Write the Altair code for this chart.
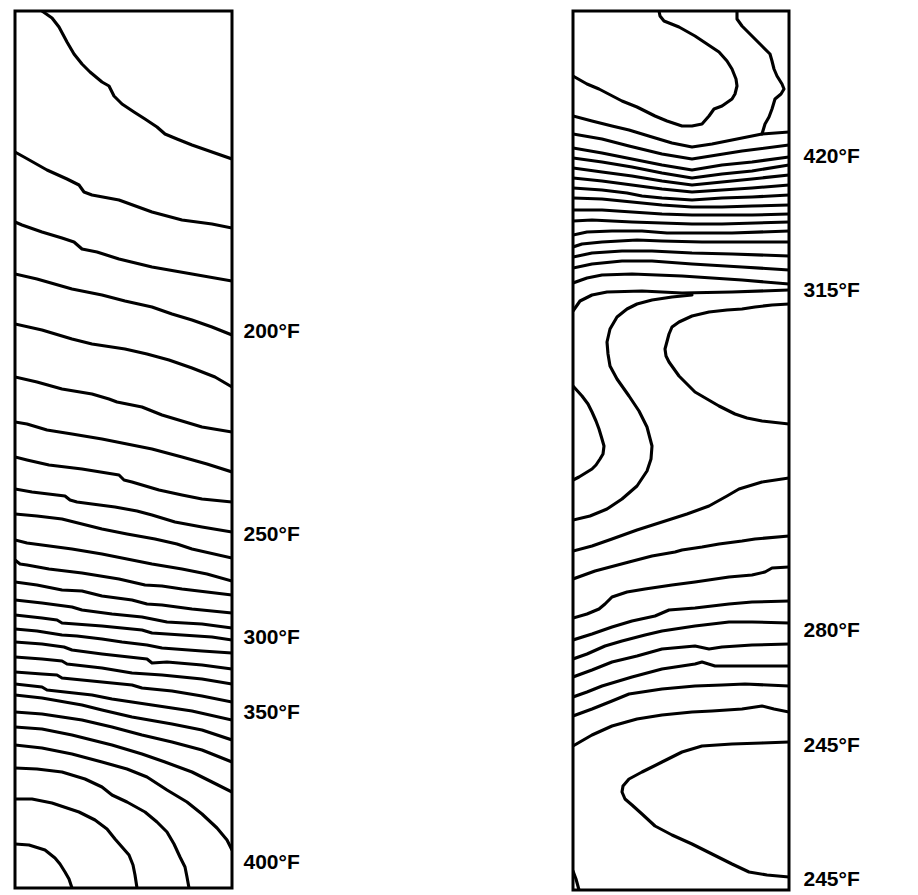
import altair as alt
import pandas as pd

# ---------------- data ----------------
# isotherm traces, (across, down) positions in each panel's own units
left_isotherms = [
    [(40, 9), (50, 16), (57, 25), (65, 40), (72, 52), (80, 62), (88, 70), (100, 80), (107, 84), (112, 94), (120, 102), (132, 110), (143, 117), (155, 125), (163, 132), (175, 137), (190, 143), (210, 150), (230, 157)],
    [(13, 150), (22, 155), (45, 168), (65, 177), (77, 183), (82, 190), (90, 193), (117, 198), (150, 210), (180, 218), (210, 222), (230, 226)],
    [(13, 220), (20, 223), (40, 230), (60, 236), (72, 240), (80, 247), (95, 250), (117, 257), (150, 265), (190, 272), (230, 279)],
    [(13, 272), (35, 277), (70, 287), (100, 293), (123, 299), (150, 305), (170, 312), (190, 318), (210, 325), (230, 333)],
    [(13, 322), (40, 328), (70, 337), (90, 342), (123, 347), (145, 352), (167, 358), (190, 366), (213, 375), (230, 385)],
    [(13, 375), (35, 380), (60, 387), (90, 392), (107, 397), (115, 400), (125, 402), (140, 405), (160, 413), (180, 419), (200, 425), (230, 430)],
    [(13, 420), (25, 422), (45, 428), (70, 432), (100, 437), (125, 442), (150, 447), (180, 455), (205, 462), (230, 470)],
    [(13, 455), (25, 458), (47, 463), (80, 467), (117, 473), (122, 478), (130, 480), (157, 488), (180, 493), (200, 497), (230, 500)],
    [(13, 487), (30, 490), (63, 494), (68, 498), (75, 500), (90, 502), (113, 505), (135, 509), (150, 513), (173, 520), (200, 525), (230, 530)],
    [(13, 512), (35, 514), (60, 517), (80, 522), (100, 527), (125, 532), (153, 537), (175, 542), (190, 547), (230, 556)],
    [(13, 538), (25, 541), (40, 543), (70, 547), (100, 552), (125, 557), (150, 562), (180, 567), (205, 572), (230, 579)],
    [(13, 558), (18, 562), (25, 563), (47, 567), (80, 571), (117, 577), (143, 583), (160, 584), (180, 587), (205, 590), (230, 593)],
    [(13, 580), (35, 583), (60, 588), (80, 589), (100, 594), (130, 598), (145, 602), (160, 603), (190, 607), (230, 611)],
    [(13, 598), (40, 601), (70, 605), (80, 608), (110, 612), (140, 615), (165, 620), (200, 622), (230, 626)],
    [(13, 613), (40, 616), (55, 618), (60, 621), (100, 624), (140, 628), (150, 631), (180, 633), (210, 635), (230, 638)],
    [(13, 627), (35, 629), (60, 633), (75, 634), (100, 637), (120, 640), (145, 643), (160, 646), (200, 649), (230, 651)],
    [(13, 640), (40, 642), (62, 645), (70, 648), (100, 652), (145, 657), (150, 661), (165, 660), (200, 663), (230, 667)],
    [(13, 655), (40, 657), (60, 659), (65, 662), (100, 666), (130, 671), (160, 673), (200, 677), (230, 682)],
    [(13, 670), (40, 672), (55, 673), (60, 676), (100, 680), (130, 683), (140, 686), (170, 689), (200, 694), (230, 700)],
    [(13, 682), (40, 685), (45, 688), (90, 693), (110, 697), (150, 703), (190, 709), (230, 718)],
    [(13, 693), (40, 696), (80, 703), (100, 708), (130, 715), (170, 722), (200, 728), (230, 738)],
    [(13, 710), (40, 712), (80, 718), (110, 725), (140, 733), (170, 740), (200, 748), (230, 760)],
    [(13, 725), (40, 727), (70, 733), (110, 743), (140, 752), (163, 760), (190, 770), (210, 780), (230, 790)],
    [(13, 743), (40, 746), (70, 752), (100, 760), (125, 767), (145, 775), (165, 788), (185, 800), (200, 812), (215, 826), (225, 838), (230, 848)],
    [(13, 766), (35, 767), (60, 770), (83, 777), (100, 785), (110, 793), (125, 800), (143, 810), (155, 820), (165, 830), (172, 842), (178, 855), (183, 865), (185, 875), (187, 886)],
    [(13, 797), (30, 797), (50, 801), (77, 810), (93, 818), (105, 827), (113, 837), (120, 845), (127, 853), (131, 863), (133, 873), (135, 886)],
    [(13, 842), (27, 843), (43, 848), (53, 856), (58, 862), (63, 870), (67, 877), (70, 886)],
]

right_isotherms = [
    [(657, 12), (658, 17), (662, 22), (677, 28), (693, 37), (705, 45), (717, 53), (725, 62), (730, 70), (734, 80), (735, 87), (733, 95), (730, 100), (720, 107), (712, 110), (707, 117), (700, 125), (690, 127), (680, 127), (665, 122), (653, 117), (635, 108), (620, 102), (597, 90), (585, 85), (571, 77)],
    [(735, 12), (735, 20), (740, 27), (750, 37), (760, 47), (768, 55), (770, 62), (772, 70), (775, 77), (780, 85), (782, 90), (779, 95), (773, 100), (770, 110), (767, 118), (763, 125), (760, 135)],
    [(571, 117), (590, 122), (610, 127), (627, 131), (650, 138), (670, 144), (690, 148), (710, 145), (735, 140), (760, 135), (787, 133)],
    [(571, 135), (600, 140), (627, 147), (660, 155), (690, 160), (715, 156), (740, 152), (787, 146)],
    [(571, 149), (600, 154), (630, 160), (660, 166), (690, 171), (720, 166), (750, 163), (787, 158)],
    [(571, 159), (600, 163), (630, 168), (660, 174), (690, 179), (720, 175), (750, 172), (787, 166)],
    [(571, 169), (600, 173), (630, 177), (660, 182), (690, 186), (720, 183), (750, 180), (787, 176)],
    [(571, 179), (600, 182), (630, 186), (660, 190), (690, 193), (720, 191), (750, 189), (787, 186)],
    [(571, 189), (600, 191), (625, 194), (640, 197), (660, 199), (690, 201), (720, 199), (750, 198), (787, 196)],
    [(571, 199), (600, 200), (630, 203), (660, 206), (690, 208), (720, 208), (750, 207), (787, 206)],
    [(571, 211), (600, 211), (630, 213), (660, 215), (690, 216), (720, 216), (750, 216), (787, 215)],
    [(571, 222), (590, 221), (630, 223), (660, 224), (690, 225), (720, 225), (787, 223)],
    [(571, 236), (585, 233), (610, 232), (640, 232), (665, 234), (690, 234), (730, 234), (787, 232)],
    [(571, 248), (580, 245), (600, 243), (635, 241), (660, 242), (700, 243), (740, 243), (787, 243)],
    [(571, 258), (590, 254), (620, 252), (650, 252), (690, 254), (730, 255), (787, 257)],
    [(571, 269), (590, 265), (620, 262), (650, 262), (690, 265), (740, 268), (787, 271)],
    [(571, 284), (585, 279), (600, 276), (630, 275), (680, 277), (740, 281), (787, 285)],
    [(571, 312), (578, 302), (590, 296), (605, 293), (640, 292), (680, 294), (730, 293), (787, 291)],
    [(690, 296), (670, 298), (650, 301), (635, 305), (625, 310), (615, 318), (608, 330), (605, 343), (606, 355), (608, 367), (615, 380), (627, 397), (637, 412), (645, 428), (650, 447), (649, 460), (645, 472), (635, 487), (620, 500), (605, 510), (588, 517), (571, 521)],
    [(787, 305), (770, 306), (753, 308), (740, 310), (725, 311), (707, 313), (690, 317), (677, 323), (670, 328), (667, 335), (663, 350), (664, 357), (667, 363), (672, 370), (677, 377), (685, 385), (693, 393), (705, 400), (717, 407), (733, 415), (745, 419), (760, 422), (787, 425)],
    [(571, 387), (580, 397), (586, 405), (590, 413), (594, 422), (597, 430), (600, 440), (602, 447), (601, 455), (598, 460), (594, 466), (590, 470), (577, 478), (571, 481)],
    [(571, 552), (590, 547), (610, 540), (635, 531), (660, 523), (685, 515), (707, 507), (725, 497), (737, 490), (760, 483), (787, 479)],
    [(571, 580), (593, 572), (627, 563), (650, 557), (673, 553), (680, 551), (700, 548), (717, 545), (740, 542), (753, 540), (787, 537)],
    [(571, 619), (585, 615), (597, 610), (603, 605), (610, 598), (625, 593), (643, 590), (670, 586), (693, 583), (727, 578), (750, 576), (763, 573), (770, 569), (787, 568)],
    [(571, 641), (590, 635), (610, 628), (630, 622), (653, 617), (667, 611), (693, 609), (727, 605), (750, 603), (787, 602)],
    [(571, 660), (585, 655), (603, 647), (620, 642), (643, 636), (660, 632), (693, 627), (727, 623), (750, 623), (787, 624)],
    [(571, 678), (590, 671), (610, 663), (635, 657), (660, 650), (693, 647), (707, 650), (720, 648), (750, 646), (787, 645)],
    [(571, 698), (585, 693), (600, 687), (630, 678), (660, 670), (693, 665), (700, 663), (713, 667), (740, 667), (787, 667)],
    [(571, 717), (590, 710), (610, 702), (627, 695), (660, 690), (693, 687), (720, 686), (743, 685), (787, 687)],
    [(571, 747), (590, 736), (610, 727), (635, 720), (660, 716), (690, 713), (710, 712), (740, 710), (760, 707), (772, 710), (787, 713)],
    [(787, 743), (760, 744), (730, 745), (700, 747), (680, 753), (660, 763), (640, 773), (627, 780), (621, 787), (620, 793), (623, 800), (630, 806), (640, 815), (653, 827), (670, 836), (690, 845), (710, 855), (730, 865), (747, 873), (765, 876), (787, 878)],
    [(571, 872), (574, 880), (577, 891)],
]

left_label_text = ["200°F", "250°F", "300°F", "350°F", "400°F"]
left_label_depth = [329, 532, 635, 710, 860]
right_label_text = ["420°F", "315°F", "280°F", "245°F", "245°F"]
right_label_depth = [157, 291, 631, 746, 880]

left_across = [13, 230]
left_down = [9, 886]
right_across = [571, 787]
right_down = [12, 891]


def to_table(traces):
    rows = []
    for i, trace in enumerate(traces):
        for j, (a, d) in enumerate(trace):
            rows.append({"trace": i, "seq": j, "across": a, "down": d})
    return pd.DataFrame(rows)


def label_expr(depths, texts):
    expr = "''"
    for d, t in reversed(list(zip(depths, texts))):
        expr = f"datum.value == {d} ? '{t}' : ({expr})"
    return expr


def panel(traces, across, down, depths, texts, w, h, pad):
    return (
        alt.Chart(to_table(traces))
        .mark_line(color="black", strokeWidth=3.1, clip=True,
                   strokeJoin="round", strokeCap="round")
        .encode(
            x=alt.X("across:Q", scale=alt.Scale(domain=across, nice=False, zero=False), axis=None),
            y=alt.Y(
                "down:Q",
                scale=alt.Scale(domain=down, nice=False, zero=False, reverse=True),
                axis=alt.Axis(
                    orient="right", values=depths, labelExpr=label_expr(depths, texts),
                    ticks=False, domain=False, grid=False, title=None,
                    labelFont="Liberation Sans", labelFontSize=21, labelFontWeight="bold",
                    labelColor="black",
                    labelPadding=pad, labelFlush=False, labelOverlap=False,
                ),
            ),
            detail="trace:N",
            order="seq:Q",
        )
        .properties(width=w, height=h)
    )


left = panel(left_isotherms, left_across, left_down, left_label_depth, left_label_text, 217, 877, 11)
right = panel(right_isotherms, right_across, right_down, right_label_depth, right_label_text, 216, 879, 14)

chart = (
    alt.hconcat(left, right, spacing=341, bounds="flush")
    .properties(padding={"left": 13, "top": 9, "right": 5, "bottom": 5}, background="white")
    .configure_view(stroke="black", strokeWidth=3)
)

chart.save("out.html", embed_options={"renderer": "svg", "actions": False})
